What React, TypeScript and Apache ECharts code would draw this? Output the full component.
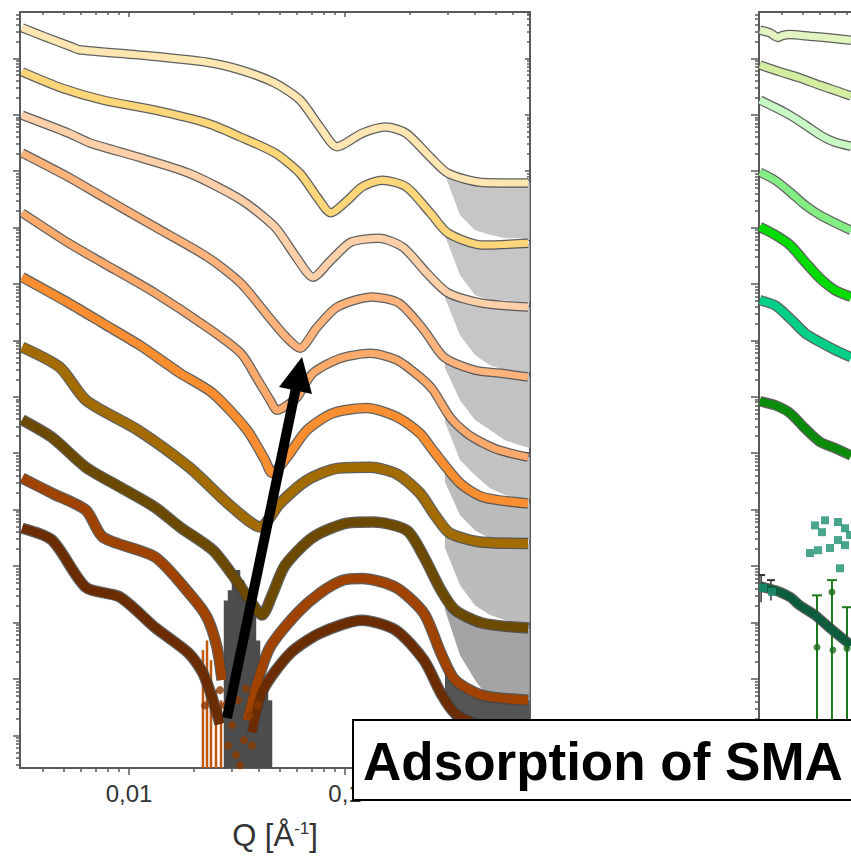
import React, { useEffect, useRef } from "react";
import * as echarts from "echarts";

// Axis extents: x is log10(Q / Å^-1), y is log10(I) in decades (curves are offset)
const X_MIN = -2.5046;
const X_MAX = -0.1435;
const X_MAX_R = -2.0787; // right panel is cut by the picture's edge
const Y_MIN = -0.58;
const Y_MAX = 12.82;

// Tick positions (Q values)
const xMajorQ = [0.01, 0.1];
const xMinorQ = [0.004, 0.005, 0.006, 0.007, 0.008, 0.009, 0.02, 0.03, 0.04, 0.05, 0.06, 0.07, 0.08, 0.09, 0.2, 0.3, 0.4, 0.5, 0.6, 0.7];
const yMajor = [0, 1, 2, 3, 4, 5, 6, 7, 8, 9, 10, 11, 12];

// ---------- Left panel: 10 scattering curves ----------
const c1Q = [0.0032, 0.00408, 0.00545, 0.00587, 0.011, 0.023, 0.033, 0.0474, 0.0619, 0.0766, 0.0919, 0.12, 0.155, 0.192, 0.248, 0.3, 0.431, 0.704];
const c1I = [12.54, 12.38, 12.2, 12.15, 12.06, 11.93, 11.79, 11.56, 11.26, 10.78, 10.43, 10.67, 10.78, 10.67, 10.25, 9.96, 9.8, 9.79];
const c2Q = [0.0032, 0.0049, 0.00758, 0.0132, 0.023, 0.033, 0.0474, 0.0619, 0.0742, 0.0861, 0.1033, 0.12, 0.1484, 0.192, 0.248, 0.3, 0.431, 0.704];
const c2I = [11.76, 11.47, 11.26, 11.08, 10.85, 10.6, 10.32, 9.96, 9.54, 9.26, 9.49, 9.72, 9.84, 9.72, 9.26, 8.9, 8.69, 8.72];
const c3Q = [0.0032, 0.00527, 0.0066, 0.011, 0.019, 0.033, 0.0474, 0.0593, 0.0711, 0.0861, 0.1066, 0.1437, 0.1856, 0.2397, 0.3, 0.431, 0.704];
const c3I = [10.99, 10.67, 10.5, 10.25, 9.96, 9.49, 9.01, 8.48, 8.12, 8.42, 8.74, 8.81, 8.65, 8.19, 7.84, 7.66, 7.59];
const c4Q = [0.0032, 0.00527, 0.00758, 0.0132, 0.023, 0.033, 0.0445, 0.0533, 0.0619, 0.0742, 0.0919, 0.1334, 0.1778, 0.2322, 0.2873, 0.4, 0.516, 0.704];
const c4I = [10.32, 9.89, 9.54, 9.01, 8.48, 8.01, 7.41, 7.06, 6.86, 7.23, 7.59, 7.77, 7.66, 7.18, 6.7, 6.47, 6.42, 6.35];
const c5Q = [0.0032, 0.00527, 0.00758, 0.0132, 0.023, 0.033, 0.0396, 0.045, 0.0485, 0.0539, 0.06, 0.0711, 0.0948, 0.1306, 0.1741, 0.2225, 0.2556, 0.3063, 0.3671, 0.4355, 0.5219, 0.704];
const c5I = [9.26, 8.72, 8.37, 7.84, 7.23, 6.77, 6.29, 5.94, 5.76, 5.85, 5.99, 6.42, 6.68, 6.77, 6.65, 6.35, 6.12, 5.64, 5.35, 5.18, 5.05, 4.93];
const c6Q = [0.0032, 0.00527, 0.00758, 0.01124, 0.01722, 0.02448, 0.03518, 0.04262, 0.04592, 0.05391, 0.06671, 0.08799, 0.1265, 0.1741, 0.2225, 0.2556, 0.3407, 0.4355, 0.704];
const c6I = [8.12, 7.66, 7.3, 6.91, 6.42, 6.06, 5.41, 4.88, 4.65, 4.93, 5.41, 5.71, 5.8, 5.64, 5.35, 5.05, 4.47, 4.22, 4.11];
const c7Q = [0.0032, 0.00479, 0.00632, 0.011, 0.019, 0.02754, 0.03556, 0.04042, 0.05001, 0.06671, 0.0919, 0.1306, 0.1741, 0.2225, 0.261, 0.3063, 0.4355, 0.704];
const c7I = [6.88, 6.52, 5.94, 5.41, 4.75, 4.17, 3.81, 3.69, 4.11, 4.52, 4.73, 4.75, 4.63, 4.29, 3.9, 3.58, 3.42, 3.4];
const c8Q = [0.0032, 0.0044, 0.00632, 0.00908, 0.0132, 0.01722, 0.02448, 0.03096, 0.03632, 0.04129, 0.04592, 0.05275, 0.07111, 0.1022, 0.1348, 0.1936, 0.2322, 0.2784, 0.3231, 0.4309, 0.704];
const c8I = [5.59, 5.28, 4.75, 4.4, 4.04, 3.69, 3.28, 2.78, 2.39, 2.13, 2.48, 3.01, 3.51, 3.76, 3.78, 3.63, 3.16, 2.57, 2.22, 1.99, 1.9];
// null = the curve is lost in the error bars at its deep minimum
const c9Q = [0.0032, 0.0044, 0.00632, 0.00758, 0.0132, 0.01916, 0.02297, 0.02555, 0.02696, 0.03, 0.03518, 0.03956, 0.04497, 0.05995, 0.07661, 0.09788, 0.1199, 0.1722, 0.2322, 0.2784, 0.3231, 0.4309, 0.704];
const c9I = [4.56, 4.29, 3.99, 3.51, 3.16, 2.5, 2.09, 1.56, 0.98, null, 0.27, 0.98, 1.56, 2.16, 2.52, 2.75, 2.78, 2.62, 2.16, 1.45, 0.98, 0.71, 0.62];
const c10Q = [0.0032, 0.0044, 0.00632, 0.00908, 0.0132, 0.01896, 0.022, 0.02448, 0.02638, 0.02873, 0.0371, 0.04172, 0.05566, 0.07661, 0.1199, 0.1722, 0.2322, 0.2784, 0.3231, 0.4309, 0.704];
const c10I = [3.67, 3.46, 2.62, 2.45, 1.91, 1.45, 1.1, 0.62, 0.2, null, 0.05, 0.8, 1.45, 1.81, 2.04, 1.86, 1.33, 0.74, 0.39, 0.18, 0.18];

// High-Q error envelopes (grey) below each curve
const bandQ = [0.2904, 0.3407, 0.3999, 0.4692, 0.5506, 0.6461, 0.716];
const b1Top = [10.02, 9.89, 9.82, 9.8, 9.79, 9.79, 9.79];
const b1Bot = [9.93, 9.22, 8.95, 8.87, 8.81, 8.81, 8.78];
const b2Top = [8.99, 8.81, 8.72, 8.69, 8.69, 8.71, 8.72];
const b2Bot = [8.85, 8.16, 7.8, 7.71, 7.71, 7.68, 7.68];
const b3Top = [7.89, 7.75, 7.7, 7.64, 7.62, 7.61, 7.59];
const b3Bot = [7.75, 7.09, 6.74, 6.56, 6.47, 6.44, 6.44];
const b4Top = [6.7, 6.58, 6.49, 6.45, 6.42, 6.38, 6.35];
const b4Bot = [6.51, 5.94, 5.59, 5.41, 5.23, 5.14, 5.09];
const b5Top = [5.76, 5.44, 5.23, 5.11, 5.04, 4.96, 4.93];
const b5Bot = [5.55, 4.88, 4.61, 4.38, 4.26, 4.2, 4.2];
const b6Top = [4.73, 4.43, 4.27, 4.18, 4.15, 4.13, 4.11];
const b6Bot = [4.49, 3.9, 3.63, 3.49, 3.46, 3.46, 3.46];
const b7Top = [3.67, 3.51, 3.44, 3.42, 3.4, 3.4, 3.4];
const b7Bot = [3.32, 2.66, 2.3, 2.13, 2.04, 2.0, 2.0];
const b8Top = [2.45, 2.16, 2.04, 1.97, 1.93, 1.91, 1.9];
const b8Bot = [2.22, 1.42, 0.98, 0.62, 0.53, 0.53, 0.53];
const b9Top = [1.33, 0.89, 0.76, 0.67, 0.64, 0.62, 0.62];
const b9Bot = [0.62, -0.09, -0.44, -0.62, -0.62, -0.62, -0.62];

// Low-Q error bars around the deep minima
const ebGreyQ = [0.02813, 0.02936, 0.03063, 0.03197, 0.03336, 0.03481, 0.03632, 0.0379, 0.03956, 0.04129, 0.04308, 0.04497];
const ebGreyHi = [2.39, 2.57, 2.84, 2.93, 2.75, 2.57, 2.39, 2.22, 1.68, 1.33, 0.98, 0.62];
const ebGreyLo = [-0.8, -0.8, -0.8, -0.8, -0.8, -0.8, -0.8, -0.8, -0.8, -0.8, -0.8, -0.8];
const ebRustQ = [0.022, 0.02297, 0.02397, 0.02528, 0.02667];
const ebRustHi = [1.51, 1.68, 1.33, 0.8, 0.62];
const ebRustLo = [-0.8, -0.8, -0.8, -0.8, -0.8];
const dotQ = [0.02783, 0.03, 0.03197, 0.03481, 0.03632, 0.02873, 0.03129, 0.03407, 0.0371, 0.03266, 0.03956, 0.02638, 0.02248];
const dotI = [0.53, 0.18, 0.62, 0.83, 0.35, -0.18, -0.35, -0.09, -0.18, -0.53, 0.53, 0.8, 0.53];

// ---------- Right panel: green curves ----------
const r1Q = [0.00316, 0.003518, 0.003832, 0.004, 0.004355, 0.005389, 0.006671, 0.008345];
const r1I = [12.5, 12.45, 12.37, 12.4, 12.42, 12.39, 12.36, 12.32];
const r2Q = [0.00316, 0.003915, 0.004843, 0.005995, 0.007421, 0.008345];
const r2I = [11.88, 11.76, 11.65, 11.52, 11.4, 11.33];
const r3Q = [0.00316, 0.003711, 0.004355, 0.005109, 0.005995, 0.007035, 0.008345];
const r3I = [11.26, 11.13, 10.99, 10.82, 10.64, 10.51, 10.44];
const r4Q = [0.00316, 0.003711, 0.004355, 0.005109, 0.005995, 0.007421, 0.008345];
const r4I = [9.98, 9.84, 9.63, 9.4, 9.22, 9.04, 8.95];
const r5Q = [0.00316, 0.003711, 0.004355, 0.005109, 0.005995, 0.007035, 0.008345];
const r5I = [9.01, 8.87, 8.69, 8.39, 8.1, 7.89, 7.77];
const r6Q = [0.00316, 0.003711, 0.004355, 0.005109, 0.005995, 0.007035, 0.008345];
const r6I = [7.71, 7.62, 7.39, 7.13, 6.97, 6.83, 6.7];
const r7Q = [0.00316, 0.003711, 0.004355, 0.005109, 0.005995, 0.007035, 0.008345];
const r7I = [5.92, 5.85, 5.71, 5.44, 5.2, 5.09, 4.96];
const r8Q = [0.005685, 0.006324, 0.007262, 0.007826, 0.005868, 0.006671, 0.005389, 0.007826, 0.007262, 0.007421, 0.006124, 0.008253, 0.003265, 0.003594];
const r8I = [3.72, 3.81, 3.78, 3.67, 3.28, 3.32, 3.23, 3.37, 3.46, 2.96, 3.6, 3.55, 2.61, 2.54];
const r9Q = [0.00316, 0.003711, 0.004355, 0.004843, 0.005685, 0.006671, 0.007826, 0.008345];
const r9I = [2.64, 2.57, 2.45, 2.3, 2.13, 1.9, 1.68, 1.6];
const rErrQ = [0.005808, 0.00681, 0.007993];
const rErrHi = [2.48, 2.75, 2.27];
const rErrLo = [-0.8, -0.8, -0.8];
const rBlkQ = [0.0032, 0.003555];
const rBlkHi = [2.84, 2.75];
const rBlkLo = [2.36, 2.39];
const rDotQ = [0.005808, 0.00681, 0.00688, 0.007993];
const rDotI = [1.56, 2.54, 1.51, 1.54];

const FONT = '"Liberation Sans", Arial, Helvetica, sans-serif';
const TICK_COLOR = "#5a5a5a";

export default function App() {
  const ref = useRef<HTMLDivElement>(null);

  useEffect(() => {
    const chart = echarts.init(ref.current!, null, { renderer: "svg" });
    const lg = (v: number) => Math.log10(v);
    const xMajor = xMajorQ.map(lg);
    const xMinor = xMinorQ.map(lg);
    const yMinor: number[] = [];
    for (let n = -1; n <= 12; n++) {
      for (let k = 2; k <= 9; k++) {
        const v = n + Math.log10(k);
        if (v > Y_MIN && v < Y_MAX) yMinor.push(v);
      }
    }

    const lineStyle = { color: TICK_COLOR, width: 2 };
    const xAx = (grid: number, pos: string, ticks: number[], len: number, inside: boolean, showLine: boolean, max: number, extra: any = {}) => ({
      type: "value", gridIndex: grid, position: pos, min: X_MIN, max,
      axisLine: { show: showLine, onZero: false, lineStyle },
      axisTick: { show: true, customValues: ticks, length: len, inside, lineStyle: { color: TICK_COLOR, width: 1.5 } },
      axisLabel: { show: false },
      splitLine: { show: false },
      ...extra,
    });
    const yAx = (grid: number, pos: string, ticks: number[], len: number, inside: boolean, showLine: boolean) => ({
      type: "value", gridIndex: grid, position: pos, min: Y_MIN, max: Y_MAX,
      axisLine: { show: showLine, onZero: false, lineStyle },
      axisTick: { show: true, customValues: ticks, length: len, inside, lineStyle: { color: TICK_COLOR, width: 1.5 } },
      axisLabel: { show: false },
      splitLine: { show: false },
    });

    const xAxes = [
      xAx(0, "bottom", xMajor, 7, false, true, X_MAX, {
        axisLabel: {
          show: true, customValues: xMajor, fontSize: 24, color: "#333", margin: 13, fontFamily: FONT,
          formatter: (v: number) => String(+Math.pow(10, v).toPrecision(2)).replace(".", ","),
        },
        name: "{a|Q [Å}{b|-1}{a|]}",
        nameLocation: "middle",
        nameGap: 52,
        nameTextStyle: {
          rich: {
            a: { fontSize: 31, color: "#333", fontFamily: FONT },
            b: { fontSize: 17, color: "#333", fontFamily: FONT, verticalAlign: "top" },
          },
        },
      }),
      xAx(0, "bottom", xMinor, 4, false, false, X_MAX),
      xAx(0, "top", xMajor, 5, true, true, X_MAX),
      xAx(0, "top", xMinor, 3, true, false, X_MAX),
      xAx(1, "bottom", xMajor, 7, false, true, X_MAX_R),
      xAx(1, "top", xMajor, 5, true, true, X_MAX_R),
      xAx(1, "top", xMinor, 3, true, false, X_MAX_R),
    ];
    const yAxes = [
      yAx(0, "left", yMajor, 7, false, true),
      yAx(0, "left", yMinor, 4, false, false),
      yAx(0, "right", yMajor, 5, true, true),
      yAx(0, "right", yMinor, 3, true, false),
      yAx(1, "left", yMajor, 8, false, true),
      yAx(1, "left", yMinor, 4, false, false),
    ];

    const toData = (q: number[], i: (number | null)[]) => q.map((v, k) => [lg(v), i[k] === null ? "-" : i[k]]);

    const leftCurves = [
      { q: c1Q, i: c1I, color: "#fde6b2", w: 7 },
      { q: c2Q, i: c2I, color: "#fcd679", w: 7 },
      { q: c3Q, i: c3I, color: "#fdd0a9", w: 7 },
      { q: c4Q, i: c4I, color: "#fdb37b", w: 7 },
      { q: c5Q, i: c5I, color: "#fcaa6c", w: 7 },
      { q: c6Q, i: c6I, color: "#f98e30", w: 8 },
      { q: c7Q, i: c7I, color: "#a36c00", w: 9 },
      { q: c8Q, i: c8I, color: "#6b4a00", w: 9 },
      { q: c9Q, i: c9I, color: "#a04300", w: 9 },
      { q: c10Q, i: c10I, color: "#6a2c00", w: 9 },
    ];
    const rightCurves = [
      { q: r1Q, i: r1I, color: "#e2f5c0", w: 7 },
      { q: r2Q, i: r2I, color: "#d2eea0", w: 7 },
      { q: r3Q, i: r3I, color: "#c8f8c6", w: 7 },
      { q: r4Q, i: r4I, color: "#84ee84", w: 7 },
      { q: r5Q, i: r5I, color: "#00dc00", w: 8 },
      { q: r6Q, i: r6I, color: "#00cf88", w: 8 },
      { q: r7Q, i: r7I, color: "#0a8c0a", w: 8 },
      { q: r9Q, i: r9I, color: "#0d5c3b", w: 8 },
    ];

    const bands = [
      { top: b1Top, bot: b1Bot, color: "#c6c6c6" },
      { top: b2Top, bot: b2Bot, color: "#c6c6c6" },
      { top: b3Top, bot: b3Bot, color: "#c6c6c6" },
      { top: b4Top, bot: b4Bot, color: "#c2c2c2" },
      { top: b5Top, bot: b5Bot, color: "#c2c2c2" },
      { top: b6Top, bot: b6Bot, color: "#bcbcbc" },
      { top: b7Top, bot: b7Bot, color: "#bcbcbc" },
      { top: b8Top, bot: b8Bot, color: "#a4a4a4" },
      { top: b9Top, bot: b9Bot, color: "#555555" },
    ];

    const bandSeries = {
      type: "custom", xAxisIndex: 0, yAxisIndex: 0, clip: true, silent: true, z: 1,
      data: bands.map((b, k) => [lg(bandQ[0]), b.top[0], k]),
      encode: { x: 0, y: 1 },
      renderItem: (params: any, api: any) => {
        const b = bands[params.dataIndex];
        const pts: number[][] = [];
        bandQ.forEach((q, k) => pts.push(api.coord([lg(q), b.top[k]])));
        for (let k = bandQ.length - 1; k >= 0; k--) pts.push(api.coord([lg(bandQ[k]), Math.max(b.bot[k], Y_MIN)]));
        return { type: "polygon", shape: { points: pts }, style: { fill: b.color } };
      },
    };

    const errSeries = (q: number[], hi: number[], lo: number[], color: string, width: number, xi: number, yi: number, cap = 0) => ({
      type: "custom", xAxisIndex: xi, yAxisIndex: yi, clip: true, silent: true, z: 2,
      data: q.map((v, k) => [lg(v), hi[k], lo[k]]),
      encode: { x: 0, y: [1, 2] },
      renderItem: (params: any, api: any) => {
        const x = api.value(0);
        const p1 = api.coord([x, api.value(1)]);
        const p2 = api.coord([x, Math.max(api.value(2), Y_MIN)]);
        const children: any[] = [
          { type: "line", shape: { x1: p1[0], y1: p1[1], x2: p2[0], y2: p2[1] }, style: { stroke: color, lineWidth: width } },
        ];
        if (cap) {
          children.push({ type: "line", shape: { x1: p1[0] - cap, y1: p1[1], x2: p1[0] + cap, y2: p1[1] }, style: { stroke: color, lineWidth: 2 } });
        }
        return { type: "group", children };
      },
    });

    const outline = (c: any, xi: number, yi: number) => ({
      type: "line", xAxisIndex: xi, yAxisIndex: yi, data: toData(c.q, c.i), showSymbol: false, smooth: 0.25,
      connectNulls: false, silent: true, z: 3, lineStyle: { color: "#444", width: c.w + 2.5, opacity: 0.85 },
    });
    const colored = (c: any, xi: number, yi: number) => ({
      type: "line", xAxisIndex: xi, yAxisIndex: yi, data: toData(c.q, c.i), showSymbol: false, smooth: 0.25,
      connectNulls: false, silent: true, z: 4, lineStyle: { color: c.color, width: c.w },
    });

    const series: any[] = [
      bandSeries,
      errSeries(ebGreyQ, ebGreyHi, ebGreyLo, "#4d4d4d", 4.5, 0, 0),
      errSeries(ebRustQ, ebRustHi, ebRustLo, "#c0570f", 2.5, 0, 0),
      ...leftCurves.map((c) => outline(c, 0, 0)),
      ...leftCurves.map((c) => colored(c, 0, 0)),
      {
        type: "scatter", xAxisIndex: 0, yAxisIndex: 0, data: toData(dotQ, dotI), symbol: "circle", symbolSize: 8,
        itemStyle: { color: "#8a3a00" }, silent: true, z: 5,
      },
      errSeries(rErrQ, rErrHi, rErrLo, "#1c7a1c", 2, 4, 4, 5),
      errSeries(rBlkQ, rBlkHi, rBlkLo, "#333", 1.5, 4, 4, 4),
      ...rightCurves.map((c) => outline(c, 4, 4)),
      ...rightCurves.map((c) => colored(c, 4, 4)),
      {
        type: "scatter", xAxisIndex: 4, yAxisIndex: 4, data: toData(r8Q, r8I), symbol: "rect", symbolSize: 8,
        itemStyle: { color: "#1b9070" }, silent: true, z: 5,
      },
      {
        type: "scatter", xAxisIndex: 4, yAxisIndex: 4, data: toData(rDotQ, rDotI), symbol: "circle", symbolSize: 7,
        itemStyle: { color: "#1c6a1c" }, silent: true, z: 5,
      },
    ];

    chart.setOption({
      animation: false,
      backgroundColor: "#ffffff",
      textStyle: { fontFamily: FONT },
      grid: [
        { left: 20, top: 12, width: 510, height: 756 },
        { left: 759, top: 12, right: 0, height: 756 },
      ],
      xAxis: xAxes,
      yAxis: yAxes,
      series,
      graphic: [
        { type: "line", z: 100, shape: { x1: 227, y1: 718, x2: 295.5, y2: 390 }, style: { stroke: "#000", lineWidth: 10, lineCap: "butt" } },
        { type: "polygon", z: 100, shape: { points: [[302, 357], [279, 387], [312, 394]] }, style: { fill: "#000" } },
        { type: "rect", z: 100, shape: { x: 353, y: 720, width: 530, height: 80 }, style: { fill: "#fff", stroke: "#000", lineWidth: 2 } },
        {
          type: "text", z: 101, x: 363, y: 761.5,
          style: { text: "Adsorption of SMA", font: `bold 53px ${FONT}`, fill: "#000", verticalAlign: "middle", align: "left" },
        },
      ],
    });
    return () => chart.dispose();
  }, []);

  return <div ref={ref} style={{ position: "absolute", left: 0, top: 0, width: 851, height: 866 }} />;
}
